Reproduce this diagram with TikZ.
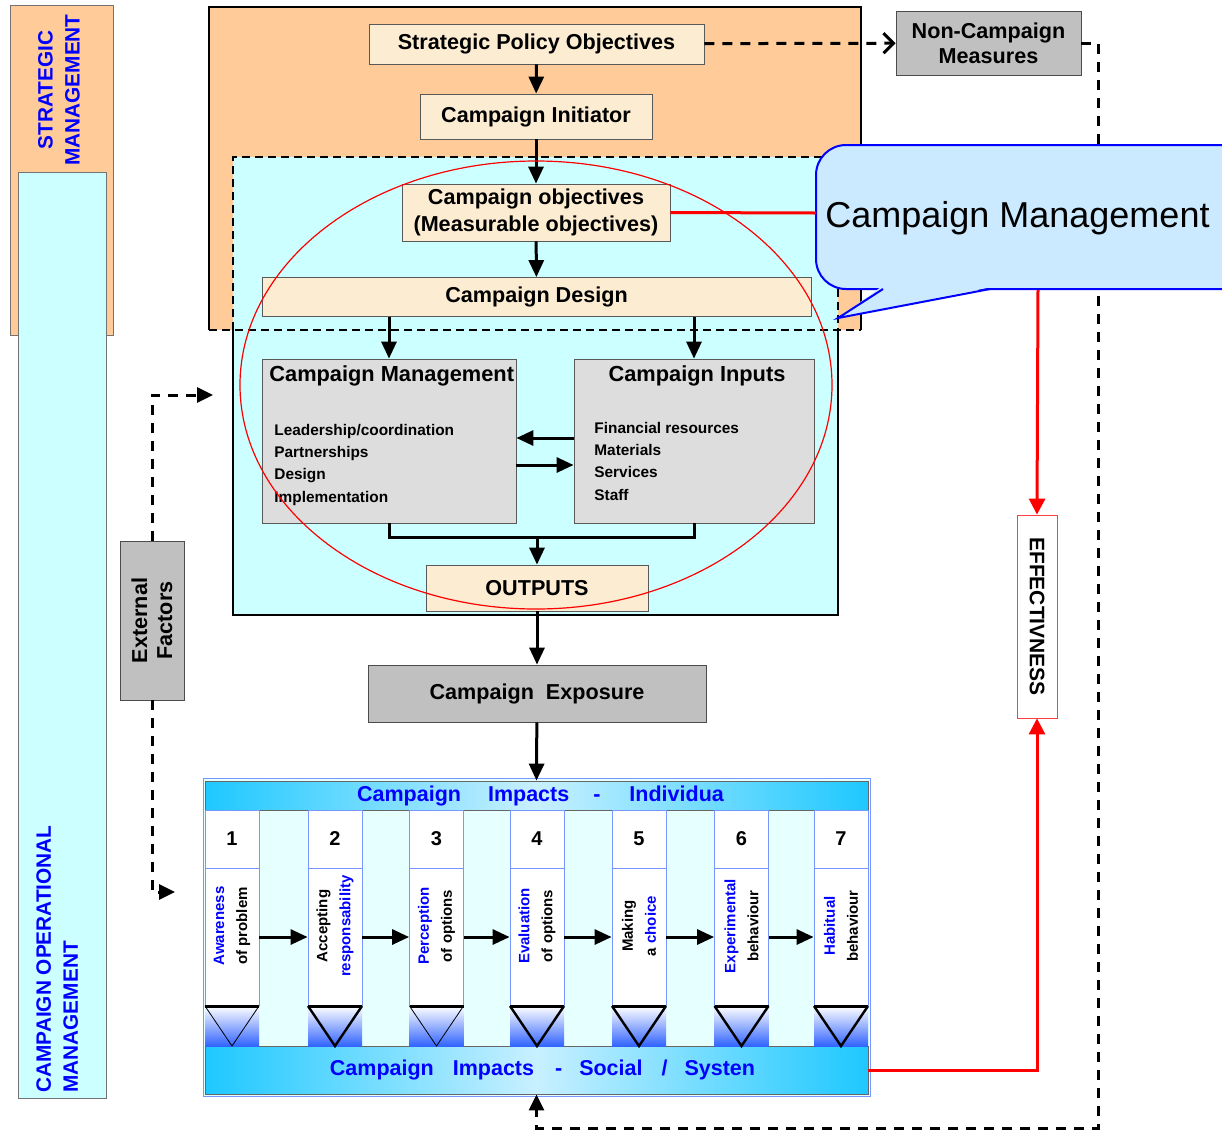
\documentclass[tikz,border=0pt]{standalone}
\usepackage{fontspec}
\setmainfont{Liberation Sans}
\usetikzlibrary{arrows.meta,positioning,calc}
\definecolor{orangebg}{RGB}{255,204,153}
\definecolor{cyanbg}{RGB}{204,255,255}
\definecolor{beige}{RGB}{252,236,210}
\definecolor{boxgrey}{RGB}{192,192,192}
\definecolor{panelgrey}{RGB}{221,221,221}
\definecolor{calloutbg}{RGB}{204,234,255}
\definecolor{bandcyan}{RGB}{30,200,255}
\definecolor{bandlight}{RGB}{200,240,255}
\definecolor{gapcyan}{RGB}{230,255,255}
\definecolor{impblue}{RGB}{50,100,255}
\definecolor{labelblue}{RGB}{0,0,255}
\definecolor{edgeblue}{RGB}{120,150,255}

\begin{document}
\begin{tikzpicture}[x=0.5pt, y=-0.5pt,
    beigebox/.style={draw=black!65, fill=beige, inner sep=0pt, align=center,
                     font=\bfseries\fontsize{10.8}{13.5}\selectfont},
    greybox/.style={draw=black!70, fill=boxgrey, inner sep=0pt, align=center,
                    font=\bfseries\fontsize{10.8}{12.5}\selectfont},
    panel/.style={draw=black!65, fill=panelgrey, inner sep=0pt},
    paneltitle/.style={inner sep=0pt, font=\bfseries\fontsize{10.9}{13}\selectfont},
    panellist/.style={inner sep=0pt, align=left, font=\bfseries\fontsize{7.7}{11.1}\selectfont},
    sidelabel/.style={inner sep=0pt, text=labelblue, font=\bfseries\fontsize{10.4}{13.5}\selectfont},
    effbox/.style={draw=red!75, fill=white, inner sep=0pt, font=\bfseries\fontsize{10.5}{12}\selectfont},
    band/.style={draw=black!60, inner sep=0pt, text=labelblue, left color=bandcyan,
                 right color=bandcyan, middle color=bandlight,
                 font=\bfseries\fontsize{10.75}{12}\selectfont},
    colbox/.style={draw=edgeblue, fill=white, inner sep=0pt},
    coltext/.style={inner sep=0pt, align=center, font=\bfseries\fontsize{7.5}{11.5}\selectfont},
    arr/.style={-{Triangle[length=8.5pt,width=7.5pt]}, line width=1.5pt},
    dashline/.style={line width=1.5pt, dash pattern=on 5pt off 4pt},
    redline/.style={red, line width=1.5pt},
]
\path[use as bounding box, clip] (0,0) rectangle (1222,1131);

%% side columns
\filldraw[fill=orangebg, draw=black!55] (10,5) rectangle (113,335);
\filldraw[fill=cyanbg, draw=black!55] (18,172) rectangle (106,1098);
\node[sidelabel, rotate=90, align=center] (stratlabel) at (59,90) {STRATEGIC\\MANAGEMENT};
\node[sidelabel, rotate=90, align=left, anchor=north west] (oplabel) at (36,1093)
    {CAMPAIGN OPERATIONAL\\MANAGEMENT};

%% strategic and operational areas
\fill[orangebg] (209,7) rectangle (861,330);
\draw[line width=1.2pt] (209,330) -- (209,7) -- (861,7) -- (861,330);
\fill[cyanbg] (233,157) rectangle (838,615);
\draw[line width=1pt, dash pattern=on 4pt off 2.5pt] (233,330) -- (233,157) -- (838,157) -- (838,330);
\draw[line width=1pt] (233,330) -- (233,615) -- (838,615) -- (838,330);
\draw[line width=1pt, dash pattern=on 4pt off 2.5pt] (209,330) -- (861,330);

%% boxes
\node[beigebox, minimum width=167.5pt, minimum height=20pt] (spo) at (536.5,44) {Strategic Policy Objectives};
\node[beigebox, minimum width=116pt, minimum height=22.5pt] (init) at (536,116.5) {Campaign Initiator};
\node[beigebox, minimum width=134pt, minimum height=28.5pt] (obj) at (536,212.5)
    {Campaign objectives\\(Measurable objectives)};
\node[beigebox, minimum width=274.5pt, minimum height=19.5pt] (design) at (536.5,297) {Campaign Design};
\node[panel, minimum width=127pt, minimum height=82pt] (mgmt) at (389,441) {};
\node[panel, minimum width=120pt, minimum height=82pt] (inputs) at (694,441) {};
\node[paneltitle, anchor=west] (mgmttitle) at (269,376) {Campaign Management};
\node[paneltitle] (inputstitle) at (697,376) {Campaign Inputs};
\node[panellist, anchor=north west] (mgmtlist) at (274,424)
    {Leadership/coordination\\Partnerships\\Design\\Implementation};
\node[panellist, anchor=north west] (inputslist) at (594,422)
    {Financial resources\\Materials\\Services\\Staff};
\node[beigebox, minimum width=111pt, minimum height=23pt] (outputs) at (537,588) {OUTPUTS};
\node[greybox, minimum width=169pt, minimum height=28.5pt] (expo) at (537,693.5) {Campaign\ \ Exposure};
\node[greybox, minimum width=92.5pt, minimum height=32pt] (noncamp) at (988.5,43) {Non-Campaign\\Measures};
\node[greybox, rotate=90, minimum width=79.5pt, minimum height=32pt] (extf) at (152,620.5) {External\\Factors};
\node[effbox, rotate=-90, minimum width=101.5pt, minimum height=20pt] (effect) at (1037,616.5) {EFFECTIVNESS};

%% flow
\coordinate (rowA) at (0,438);
\coordinate (rowB) at (0,465);
\coordinate (merge) at (537,537);
\draw[arr] (spo) -- (init);
\draw[arr] (init) -- (obj);
\draw[arr] (obj) -- (design);
\draw[arr] (design.south -| mgmt) -- (mgmt.north);
\draw[arr] (design.south -| inputs) -- (inputs.north);
\draw[arr] (inputs.west |- rowA) -- (mgmt.east |- rowA);
\draw[arr] (mgmt.east |- rowB) -- (inputs.west |- rowB);
\draw[line width=1.5pt] (mgmt.south) |- (merge) -| (inputs.south);
\draw[arr] (merge) -- (outputs.north);
\draw[arr] (outputs) -- (expo);

%% external factors and non-campaign loop
\coordinate (extin) at (213,395);
\coordinate (extout) at (175,892);
\coordinate (loopcorner) at (1098,1128);
\draw[dashline, -{Triangle[length=8pt,width=7.5pt]}] (extf.east) |- (extin);
\draw[dashline, -{Triangle[length=8pt,width=7.5pt]}] (extf.west) |- (extout);
\draw[dashline, -{Straight Barb[length=5pt,width=10pt]}] (spo) -- (noncamp);

%% individual impacts
\draw[edgeblue, fill=gapcyan] (203,778) rectangle (870,1096);
\node[band, minimum width=331.5pt, minimum height=14.5pt] (indiv) at (536.5,795.5)
    {\hspace*{4pt}Campaign\hspace{13.5pt}Impacts\hspace{12pt}-\hspace{14.5pt}Individua};
\node[band, minimum width=331.5pt, minimum height=24pt] (social) at (536.5,1070)
    {\hspace*{6pt}Campaign\hspace{9.5pt}Impacts\hspace{10.5pt}-\hspace{8.5pt}Social\hspace{9.5pt}/\hspace{8.5pt}Systen};
\coordinate (divrow) at (0,868);
\coordinate (arrowrow) at (0,937);
\foreach \xc/\tw [count=\i] in {232/0.4pt, 335/1.2pt, 436.5/0.4pt, 537/1.2pt, 639/1.2pt, 741.5/1.2pt, 841/1.2pt} {
  \node[colbox, minimum width=27pt, minimum height=97.5pt] (col\i) at (\xc,907.5) {};
  \draw[edgeblue] (col\i.west |- divrow) -- (col\i.east |- divrow);
  \node[font=\bfseries\fontsize{10}{12}\selectfont] (num\i) at (\xc,839) {\i};
  \shade[top color=white, bottom color=impblue] (\xc-27,1006) rectangle (\xc+27,1046);
  \draw[line width=1.5pt] (\xc-27,1006) -- (\xc+27,1006);
  \draw[line width=\tw] (\xc-27,1006) -- (\xc,1046) -- (\xc+27,1006);
}
\foreach \xc/\txt [count=\i] in {232/{{\color{labelblue}Awareness}\\of problem},
    335/{Accepting\\{\color{labelblue}responsability}},
    436.5/{{\color{labelblue}Perception}\\of options},
    537/{{\color{labelblue}Evaluation}\\of options},
    639/{Making\\a {\color{labelblue}choice}},
    741.5/{{\color{labelblue}Experimental}\\behaviour},
    841/{{\color{labelblue}Habitual}\\behaviour}}
  \node[coltext, rotate=90] (txt\i) at (\xc,926) {\txt};
\foreach \i [evaluate=\i as \j using int(\i+1)] in {1,...,6}
  \draw[arr] (col\i.east |- arrowrow) -- (col\j.west |- arrowrow);
\draw[arr] (expo) -- (indiv.north);
\draw[dashline, -{Triangle[length=8pt,width=7.5pt]}] (noncamp.east) -| (loopcorner) -| (social.south);

%% campaign management scope
\draw[red, line width=0.6pt] (536,385) ellipse [x radius=148pt, y radius=112pt];

%% callout
\filldraw[fill=calloutbg, draw=blue, line width=1pt, rounded corners=15pt] (816,145) rectangle (1260,289);
\fill[calloutbg] (881,287) -- (838,318) -- (992,287) -- cycle;
\draw[blue, line width=1pt] (883,289) -- (838,318) -- (990,289);
\node[anchor=west, inner sep=0pt, font=\fontsize{18}{22}\selectfont] (callout) at (825,218) {Campaign Management};
\coordinate (calloutL) at (816,213);
\coordinate (calloutB) at (1038,290);
\draw[redline] (obj.east) -- (calloutL);
\draw[redline, -{Triangle[length=8pt,width=8pt]}] (calloutB) -- (effect.west);
\draw[redline, -{Triangle[length=8pt,width=8pt]}] (social.east) -| (effect.east);

\end{tikzpicture}
\end{document}
